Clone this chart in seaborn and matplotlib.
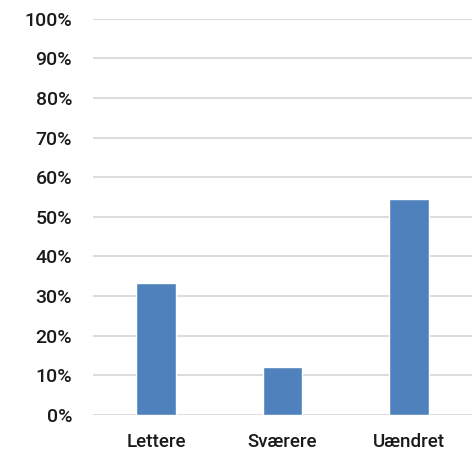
import matplotlib
matplotlib.use("Agg")
import matplotlib.pyplot as plt
import seaborn as sns
import pandas as pd
from matplotlib.ticker import FuncFormatter

categories = ["Lettere", "Sværere", "Uændret"]
values = [33.3, 12.1, 54.6]
ytick_values = list(range(0, 101, 10))

sns.set_theme(style="white")
plt.rcParams['font.family'] = ['Roboto', 'DejaVu Sans']

df = pd.DataFrame({"cat": categories, "val": values})

fig = plt.figure(figsize=(4.77, 4.58), dpi=100)
ax = fig.add_axes([0.195, 0.094, 0.794, 0.865])
sns.barplot(data=df, x="cat", y="val", color="#4F81BD", saturation=1, width=0.315, ax=ax, zorder=3)

ax.set_ylim(0, 100)
ax.set_yticks(ytick_values)
ax.yaxis.set_major_formatter(FuncFormatter(lambda v, p: f"{int(v)}%"))
ax.grid(axis="y", color="#D9D9D9", linewidth=1.3, zorder=0)
ax.set_axisbelow(True)
for s in ["top", "right", "left", "bottom"]:
    ax.spines[s].set_visible(False)
ax.set_xlabel("")
ax.set_ylabel("")
ax.tick_params(axis="y", length=0, pad=15, labelsize=14, labelcolor="#1a1a1a")
ax.tick_params(axis="x", length=0, pad=13, labelsize=13.5, labelcolor="#1a1a1a")
for lab in ax.get_yticklabels() + ax.get_xticklabels():
    lab.set_fontweight("medium")

fig.savefig("out.png", dpi=100)
